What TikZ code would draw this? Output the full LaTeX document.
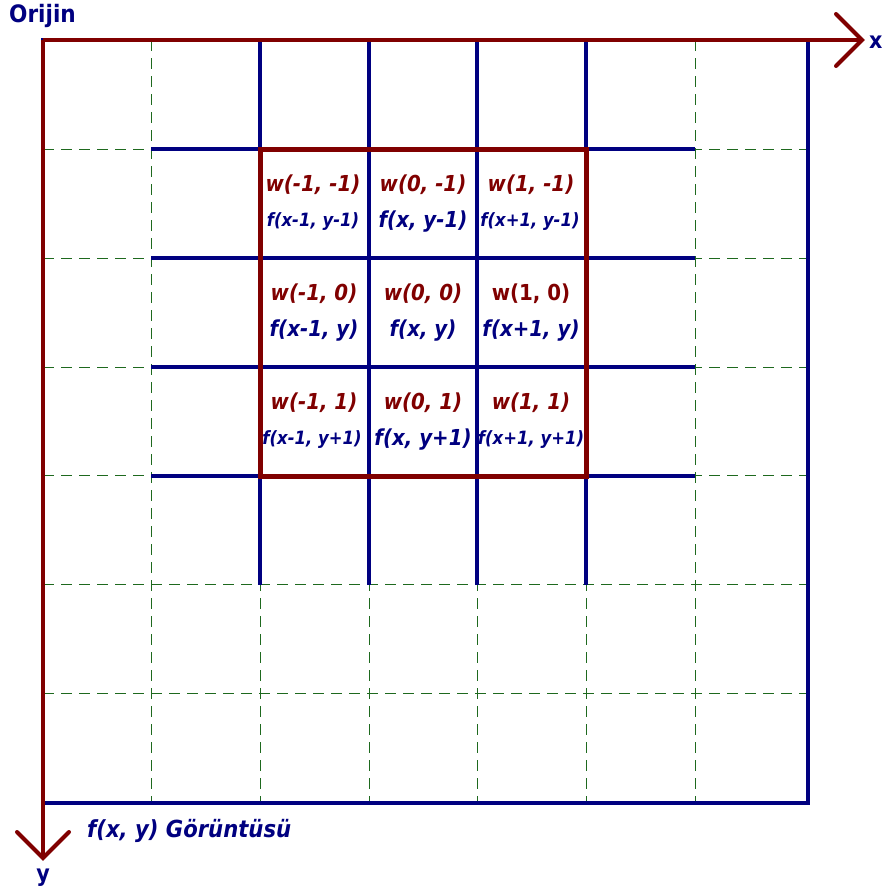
\documentclass[tikz,border=0pt]{standalone}
\usepackage{fontspec}
\setmainfont{DejaVu Sans}[FakeStretch=0.9]
\definecolor{kred}{RGB}{128,0,0}
\definecolor{kblue}{RGB}{0,0,128}
\definecolor{kgreen}{RGB}{30,105,30}
\begin{document}
\begin{tikzpicture}[x=1pt,y=-1pt,
  gridline/.style={kgreen,line width=1pt,dash pattern=on 11pt off 7pt},
  blueline/.style={kblue,line width=4pt},
  redline/.style={kred,line width=5pt},
  axisline/.style={kred,line width=4pt},
  wlab/.style={kred,font=\fontsize{22}{22}\selectfont\bfseries\itshape,inner sep=0pt},
  wlabup/.style={kred,font=\fontsize{22}{22}\selectfont\bfseries,inner sep=0pt},
  flab/.style={kblue,font=\fontsize{22}{22}\selectfont\bfseries\itshape,inner sep=0pt},
  fsmall/.style={kblue,font=\fontsize{18.3}{18.3}\selectfont\bfseries\itshape,inner sep=0pt},
  axlab/.style={kblue,font=\fontsize{23}{23}\selectfont\bfseries,inner sep=0pt}]
\useasboundingbox (0,0) rectangle (888,894);
% dashed grid
\foreach \v in {151,260,369,477,586,695}{
  \draw[gridline] (\v,40) -- (\v,803);
  \draw[gridline] (43,\v-2) -- (808,\v-2);
}
% outer image box
\draw[kblue,line width=4.5pt] (43,40) rectangle (808,803);
% blue inner lines
\foreach \v in {260,369,477,586}{
  \draw[blueline] (\v,40) -- (\v,585);
}
\foreach \h in {149,258,367,476}{
  \draw[blueline] (151,\h) -- (695,\h);
}
% kernel box
\draw[redline] (260,149) rectangle (586,476);
% axes
\coordinate (O) at (43,40);
\coordinate (xt) at (862,40);
\coordinate (yt) at (43,858);
\draw[axisline] (O) -- (xt);
\draw[axisline] (O) -- (yt);
\draw[axisline,line cap=round] (836,14) -- (xt) -- (836,66);
\draw[axisline,line cap=round] (17,832) -- (yt) -- (69,832);
\node[axlab,anchor=west] (xl) at (869,42) {x};
\node[axlab] (yl) at (43,878) {y};
\node[axlab,anchor=west,font=\fontsize{24}{24}\selectfont\bfseries] (orj) at (9,16) {Orijin};
\node[flab,anchor=west,font=\fontsize{23.5}{23.5}\selectfont\bfseries\itshape] (img) at (87,831) {f(x, y) Görüntüsü};
% cell labels
\node[wlab] (w11) at (313,185) {w(-1, -1)};
\node[wlab] (w21) at (423,185) {w(0, -1)};
\node[wlab] (w31) at (531,185) {w(1, -1)};
\node[fsmall] (f11) at (313,222) {f(x-1, y-1)};
\node[flab] (f21) at (423,222) {f(x, y-1)};
\node[fsmall] (f31) at (530,222) {f(x+1, y-1)};
\node[wlab] (w12) at (314,294) {w(-1, 0)};
\node[wlab] (w22) at (423,294) {w(0, 0)};
\node[wlabup] (w32) at (531,294) {w(1, 0)};
\node[flab] (f12) at (314,331) {f(x-1, y)};
\node[flab] (f22) at (423,331) {f(x, y)};
\node[flab] (f32) at (531,331) {f(x+1, y)};
\node[wlab] (w13) at (314,403) {w(-1, 1)};
\node[wlab] (w23) at (423,403) {w(0, 1)};
\node[wlab] (w33) at (531,403) {w(1, 1)};
\node[fsmall] (f13) at (312,440) {f(x-1, y+1)};
\node[flab] (f23) at (423,440) {f(x, y+1)};
\node[fsmall] (f33) at (531,440) {f(x+1, y+1)};
\end{tikzpicture}
\end{document}
